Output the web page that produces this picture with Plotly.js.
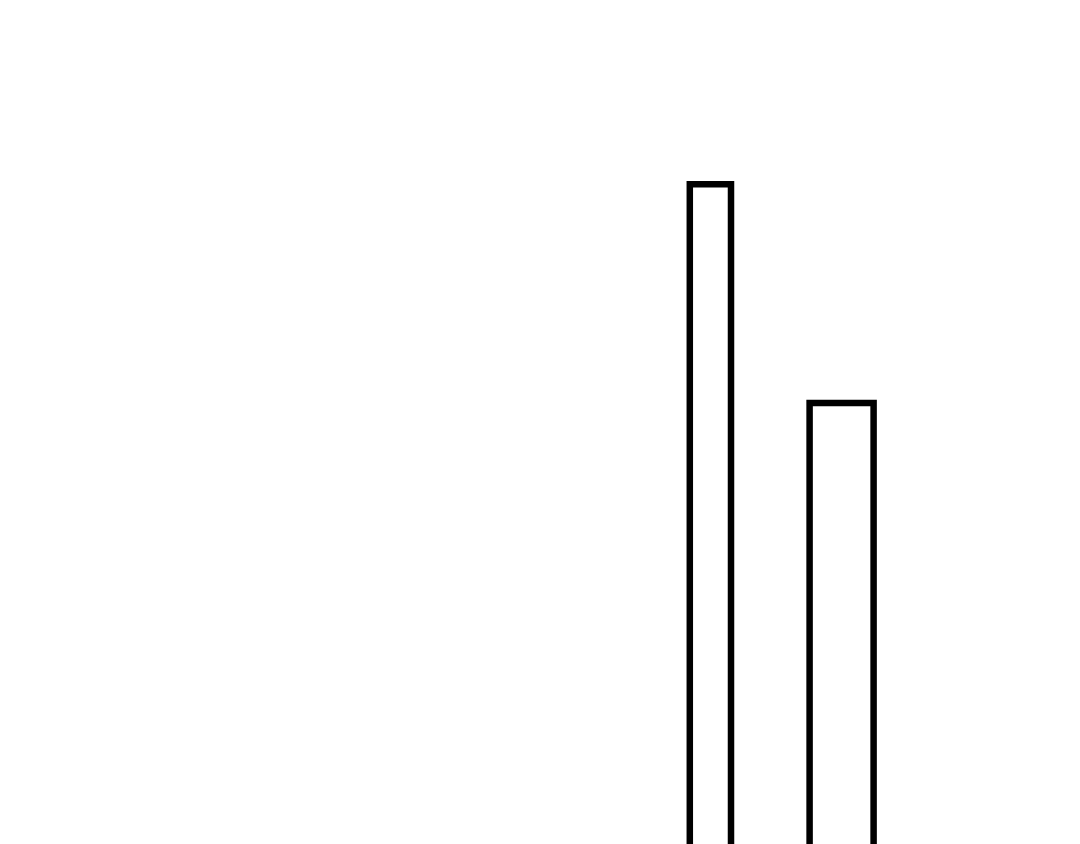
<!DOCTYPE html>
<html>
<head>
<meta charset="utf-8">
<script src="https://cdn.plot.ly/plotly-3.0.1.min.js"></script>
<style>
  html, body { margin: 0; padding: 0; background: #fff; }
  #chart { width: 1080px; height: 844px; }
</style>
</head>
<body>
<div id="chart"></div>
<script>
// bar centres, heights and widths
const positions = [17.76, 21.04];
const values = [78.6, 53.2];
const widths = [1.03, 1.6];

const data = [{
    x: positions,
    y: values,
    width: widths,
    type: 'bar',
    marker: {
        color: 'rgba(255,255,255,0)',
        line: { color: '#000', width: 6.5 }
    },
    hoverinfo: 'none'
}];

const layout = {
    width: 1080,
    height: 844,
    margin: { t: 0, b: 0, l: 0, r: 0 },
    paper_bgcolor: '#fff',
    plot_bgcolor: '#fff',
    showlegend: false,
    xaxis: { range: [0, 27], visible: false, showgrid: false, zeroline: false },
    yaxis: { range: [2, 100], visible: false, showgrid: false, zeroline: false }
};

Plotly.newPlot('chart', data, layout, { displayModeBar: false, staticPlot: true });
</script>
</body>
</html>
